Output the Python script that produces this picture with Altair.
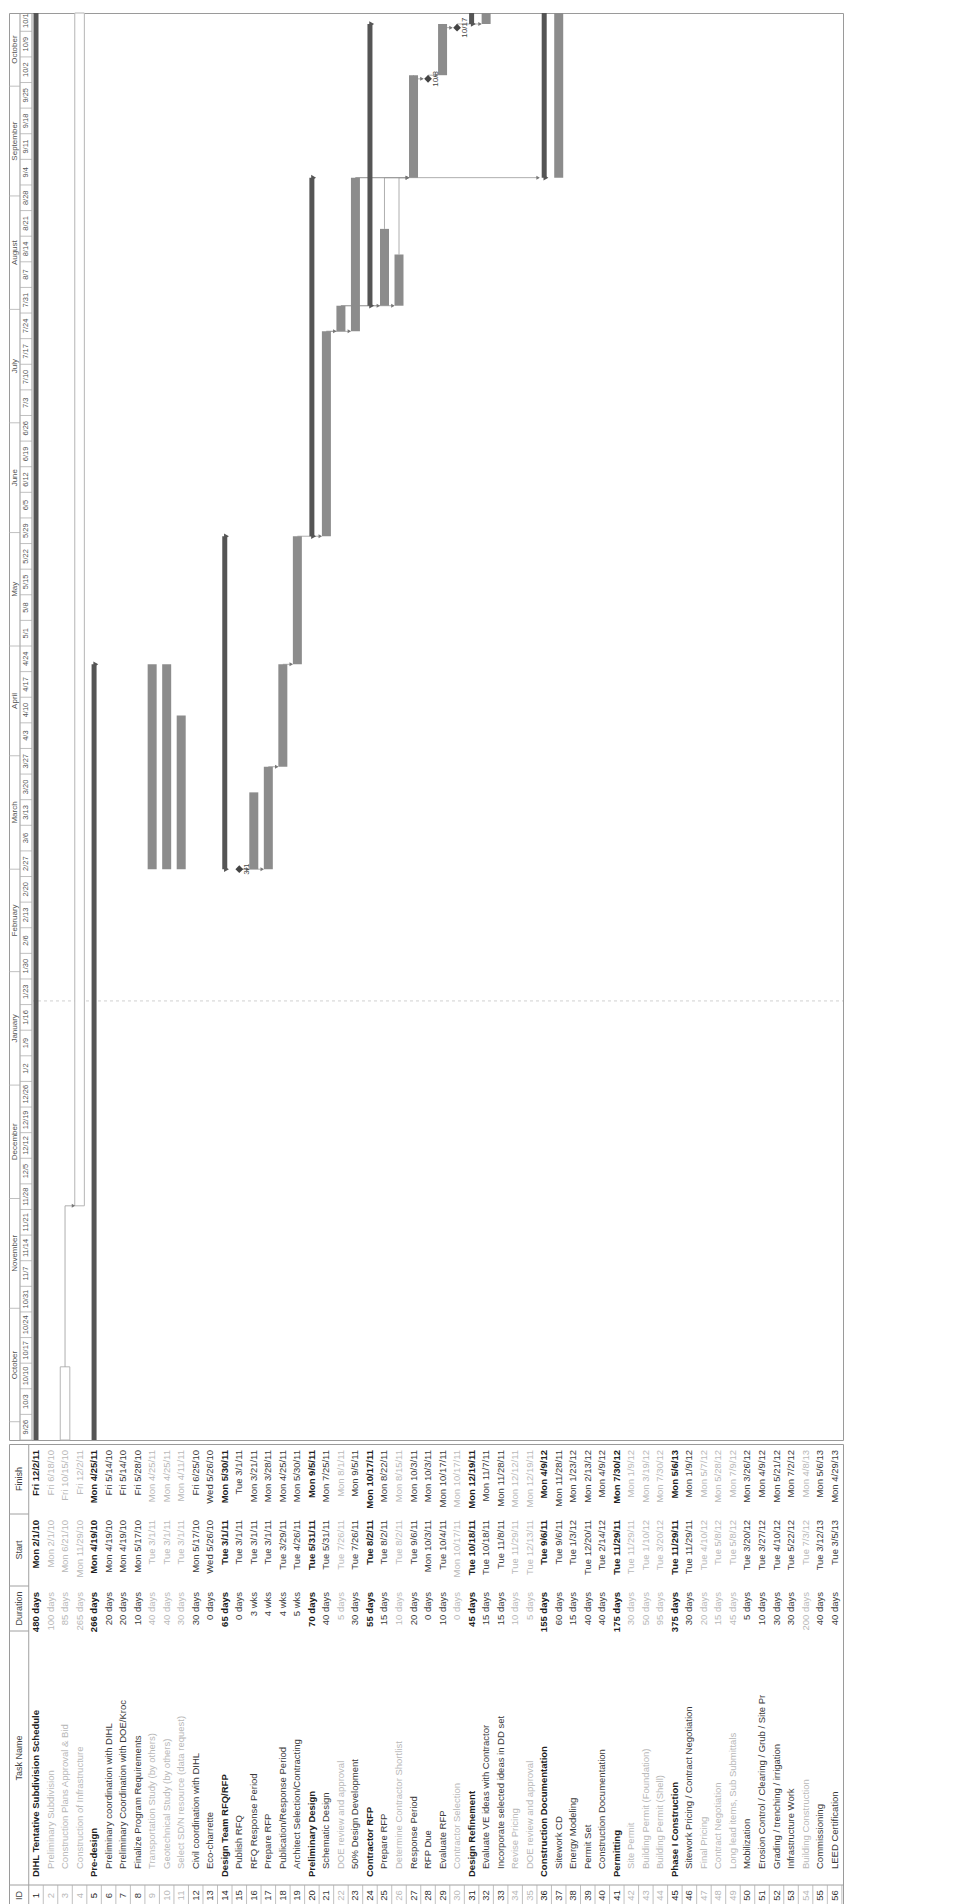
import altair as alt
import pandas as pd
from datetime import date, datetime, timedelta, timezone

# ---------------- data ----------------
IDS = list(range(1, 57))
NAMES = [
    "DIHL Tentative Subdivision Schedule", "Preliminary Subdivision",
    "Construction Plans Approval & Bid", "Construction of Infrastructure",
    "Pre-design", "Preliminary coordination with DIHL",
    "Preliminary Coordination with DOE/Kroc", "Finalize Program Requirements",
    "Transportation Study (by others)", "Geotechnical Study (by others)",
    "Select SD/N resource (data request)", "Civil coordination with DIHL",
    "Eco-charrette", "Design Team RFQ/RFP", "Publish RFQ", "RFQ Response Period",
    "Prepare RFP", "Publication/Response Period", "Architect Selection/Contracting",
    "Preliminary Design", "Schematic Design", "DOE review and approval",
    "50% Design Development", "Contractor RFP", "Prepare RFP",
    "Determine Contractor Shortlist", "Response Period", "RFP Due", "Evaluate RFP",
    "Contractor Selection", "Design Refinement", "Evaluate VE ideas with Contractor",
    "Incorporate selected ideas in DD set", "Revise Pricing", "DOE review and approval",
    "Construction Documentation", "Sitework CD", "Energy Modeling", "Permit Set",
    "Construction Documentation", "Permitting", "Site Permit",
    "Building Permit (Foundation)", "Building Permit (Shell)", "Phase I Construction",
    "Sitework Pricing / Contract Negotiation", "Final Pricing", "Contract Negotiation",
    "Long lead items, Sub Submittals", "Mobilization",
    "Erosion Control / Clearing / Grub / Site Pr", "Grading / trenching / irrigation",
    "Infrastructure Work", "Building Construction", "Commissioning", "LEED Certification",
]
DURATIONS = [
    "480 days", "100 days", "85 days", "265 days", "266 days", "20 days", "20 days",
    "10 days", "40 days", "40 days", "30 days", "30 days", "0 days", "65 days",
    "0 days", "3 wks", "4 wks", "4 wks", "5 wks", "70 days", "40 days", "5 days",
    "30 days", "55 days", "15 days", "10 days", "20 days", "0 days", "10 days",
    "0 days", "45 days", "15 days", "15 days", "10 days", "5 days", "155 days",
    "60 days", "15 days", "40 days", "40 days", "175 days", "30 days", "50 days",
    "95 days", "375 days", "30 days", "20 days", "15 days", "45 days", "5 days",
    "10 days", "30 days", "30 days", "200 days", "40 days", "40 days",
]
STARTS = [
    "Mon 2/1/10", "Mon 2/1/10", "Mon 6/21/10", "Mon 11/29/10", "Mon 4/19/10",
    "Mon 4/19/10", "Mon 4/19/10", "Mon 5/17/10", "Tue 3/1/11", "Tue 3/1/11",
    "Tue 3/1/11", "Mon 5/17/10", "Wed 5/26/10", "Tue 3/1/11", "Tue 3/1/11",
    "Tue 3/1/11", "Tue 3/1/11", "Tue 3/29/11", "Tue 4/26/11", "Tue 5/31/11",
    "Tue 5/31/11", "Tue 7/26/11", "Tue 7/26/11", "Tue 8/2/11", "Tue 8/2/11",
    "Tue 8/2/11", "Tue 9/6/11", "Mon 10/3/11", "Tue 10/4/11", "Mon 10/17/11",
    "Tue 10/18/11", "Tue 10/18/11", "Tue 11/8/11", "Tue 11/29/11", "Tue 12/13/11",
    "Tue 9/6/11", "Tue 9/6/11", "Tue 1/3/12", "Tue 12/20/11", "Tue 2/14/12",
    "Tue 11/29/11", "Tue 11/29/11", "Tue 1/10/12", "Tue 3/20/12", "Tue 11/29/11",
    "Tue 11/29/11", "Tue 4/10/12", "Tue 5/8/12", "Tue 5/8/12", "Tue 3/20/12",
    "Tue 3/27/12", "Tue 4/10/12", "Tue 5/22/12", "Tue 7/3/12", "Tue 3/12/13",
    "Tue 3/5/13",
]
FINISHES = [
    "Fri 12/2/11", "Fri 6/18/10", "Fri 10/15/10", "Fri 12/2/11", "Mon 4/25/11",
    "Fri 5/14/10", "Fri 5/14/10", "Fri 5/28/10", "Mon 4/25/11", "Mon 4/25/11",
    "Mon 4/11/11", "Fri 6/25/10", "Wed 5/26/10", "Mon 5/30/11", "Tue 3/1/11",
    "Mon 3/21/11", "Mon 3/28/11", "Mon 4/25/11", "Mon 5/30/11", "Mon 9/5/11",
    "Mon 7/25/11", "Mon 8/1/11", "Mon 9/5/11", "Mon 10/17/11", "Mon 8/22/11",
    "Mon 8/15/11", "Mon 10/3/11", "Mon 10/3/11", "Mon 10/17/11", "Mon 10/17/11",
    "Mon 12/19/11", "Mon 11/7/11", "Mon 11/28/11", "Mon 12/12/11", "Mon 12/19/11",
    "Mon 4/9/12", "Mon 11/28/11", "Mon 1/23/12", "Mon 2/13/12", "Mon 4/9/12",
    "Mon 7/30/12", "Mon 1/9/12", "Mon 3/19/12", "Mon 7/30/12", "Mon 5/6/13",
    "Mon 1/9/12", "Mon 5/7/12", "Mon 5/28/12", "Mon 7/9/12", "Mon 3/26/12",
    "Mon 4/9/12", "Mon 5/21/12", "Mon 7/2/12", "Mon 4/8/13", "Mon 5/6/13",
    "Mon 4/29/13",
]
SUMMARY_ROWS = [1, 5, 14, 20, 24, 31, 36, 41, 45]
FADED_ROWS = [2, 3, 4, 9, 10, 11, 22, 26, 30, 34, 35, 42, 43, 44, 47, 48, 49, 54]
OUTLINE_ROWS = [2, 3, 4]
LINKS = [(3, 4), (15, 16), (15, 17), (17, 18), (18, 19), (19, 21), (21, 22), (21, 23),
         (22, 25), (22, 26), (23, 27), (23, 36), (25, 27), (26, 27), (27, 28),
         (28, 29), (29, 30), (30, 32)]
MONTH_LABELS = ["October", "November", "December", "January", "February", "March",
                "April", "May", "June", "July", "August", "September", "October"]
TIMELINE_START = "Sun 9/26/10"
STATUS_DATE = "Mon 1/24/11"
TABLE_COLUMNS = ["Finish", "Start", "Duration", "Task Name", "ID"]

# ---------------- layout ----------------
FONT = "Liberation Sans"
ROW_PX = 14.52
W = 834
GH = 1427
TH = 462
PX_PER_DAY = 3.659
X0 = 1 - 27 / ROW_PX
X1 = X0 + W / ROW_PX
TABLE_EDGES = [0, 70, 142, 187, 441, TH]


def u(px):
    return X0 + px / ROW_PX


def parse(s):
    m, d, y = s.split()[1].split("/")
    return date(2000 + int(y), int(m), int(d))


DAY = 86400000


def ms(d):
    return int(datetime(d.year, d.month, d.day, tzinfo=timezone.utc).timestamp() * 1000)


D0 = parse(TIMELINE_START)
D1 = D0 + timedelta(days=round(GH / PX_PER_DAY))
T0, T1 = ms(D0), ms(D1)

XS = alt.Scale(domain=[X0, X1], nice=False, zero=False)
YS = alt.Scale(type="utc", domain=[T0, T1], clamp=True, nice=False)
TS = alt.Scale(domain=[0, TH], reverse=True, nice=False, zero=False)


def X(f):
    return alt.X(f, type="quantitative", scale=XS, axis=None)


def Y(f):
    return alt.Y(f, type="temporal", scale=YS, axis=None)


def TY(f):
    return alt.Y(f, type="quantitative", scale=TS, axis=None)


# ---------------- task records ----------------
tasks = []
for i, n, du, s, f in zip(IDS, NAMES, DURATIONS, STARTS, FINISHES):
    sd, fd = parse(s), parse(f)
    if du.startswith("0 "):
        kind = "milestone"
    elif i in SUMMARY_ROWS:
        kind = "summary"
    elif i in OUTLINE_ROWS:
        kind = "outline"
    else:
        kind = "task"
    st = ms(sd)
    en = ms(fd) + DAY if kind != "milestone" else ms(sd) + DAY // 2
    tasks.append(dict(row=i, kind=kind, start=st, end=en,
                      label=f"{sd.month}/{sd.day}"))
T = pd.DataFrame(tasks)
vis = T[(T.end > T0) & (T.start < T1)].copy()
vis["xl"] = vis.row - 0.33
vis["xh"] = vis.row + 0.33

bars = vis[vis.kind == "task"]
summ = vis[vis.kind == "summary"]
outl = vis[vis.kind == "outline"]
mile = vis[vis.kind == "milestone"]

caps = []
for _, r in summ.iterrows():
    for t in (r.start, r.end):
        if T0 < t < T1:
            caps.append(dict(x=r.row + 0.12, t=t))
caps = pd.DataFrame(caps)

# links
by_row = T.set_index("row")
hseg, vseg, heads = [], [], []
for p, s in LINKS:
    pe = by_row.loc[p, "end"]
    ss = by_row.loc[s, "start"]
    hseg.append(dict(x=p, x2=s - 0.36, t=ss))
    if pe != ss:
        vseg.append(dict(x=p, t=pe, t2=ss))
    heads.append(dict(x=s - 0.42, t=ss))
hseg, vseg, heads = pd.DataFrame(hseg), pd.DataFrame(vseg), pd.DataFrame(heads)

# timeline header
weeks = []
d = D0
while d < D1:
    weeks.append(dict(t=ms(d), mid=ms(d) + int(3.5 * DAY), label=f"{d.month}/{d.day}"))
    d += timedelta(days=7)
weeks = pd.DataFrame(weeks)

months = []
for k, lab in enumerate(MONTH_LABELS):
    y, m = 2010 + (9 + k) // 12, (9 + k) % 12 + 1
    ny, nm = 2010 + (10 + k) // 12, (10 + k) % 12 + 1
    a, b = ms(date(y, m, 1)), ms(date(ny, nm, 1))
    lo, hi = max(a, T0), min(b, T1)
    months.append(dict(t=a, mid=lo + (hi - lo) / 2, label=lab))
months = pd.DataFrame(months)

MT_X, WK_X, HD_R = u(5.5), u(17), u(23)

# ---------------- Gantt panel ----------------
tier_lines = alt.Chart(pd.DataFrame({"x": [u(11), HD_R]})).mark_rule(
    color="#9a9a9a", strokeWidth=1).encode(x=X("x"))

week_sep = alt.Chart(weeks).transform_calculate(a=str(u(11)), b=str(HD_R)).mark_rule(
    color="#b0b0b0", strokeWidth=0.8).encode(x=X("a"), x2="b:Q", y=Y("t"))
month_sep = alt.Chart(months).transform_calculate(a=str(X0), b=str(u(11))).mark_rule(
    color="#b0b0b0", strokeWidth=0.8).encode(x=X("a"), x2="b:Q", y=Y("t"))

week_txt = alt.Chart(weeks).transform_calculate(x=str(WK_X)).mark_text(
    angle=270, align="center", baseline="middle", font=FONT, fontSize=7.5,
    color="#555555", clip=True).encode(x=X("x"), y=Y("mid"), text="label:N")
month_txt = alt.Chart(months).transform_calculate(x=str(MT_X)).mark_text(
    angle=270, align="center", baseline="middle", font=FONT, fontSize=8,
    color="#555555", clip=True).encode(x=X("x"), y=Y("mid"), text="label:N")

status = alt.Chart(pd.DataFrame({"t": [ms(parse(STATUS_DATE))],
                                 "a": [HD_R], "b": [X1]})).mark_rule(
    color="#d0d0d0", strokeWidth=1, strokeDash=[3, 3]).encode(
    x=X("a"), x2="b:Q", y=Y("t"))

outline_bars = alt.Chart(outl).mark_rect(
    fill="white", stroke="#b5b5b5", strokeWidth=1).encode(
    x=X("xl"), x2="xh:Q", y=Y("start"), y2="end:T")

link_h = alt.Chart(hseg).mark_rule(color="#9a9a9a", strokeWidth=0.8).encode(
    x=X("x"), x2="x2:Q", y=Y("t"))
link_v = alt.Chart(vseg).mark_rule(color="#9a9a9a", strokeWidth=0.8).encode(
    x=X("x"), y=Y("t"), y2="t2:T")
link_head = alt.Chart(heads).mark_point(
    shape="triangle-right", filled=True, size=16, color="#777777", opacity=1).encode(
    x=X("x"), y=Y("t"))

task_bars = alt.Chart(bars).mark_rule(
    color="#8c8c8c", strokeWidth=9, strokeCap="butt").encode(
    x=X("row"), y=Y("start"), y2="end:T")
summary_bars = alt.Chart(summ).mark_rule(
    color="#555555", strokeWidth=5, strokeCap="butt").encode(
    x=X("row"), y=Y("start"), y2="end:T")
summary_caps = alt.Chart(caps).mark_point(
    shape="triangle-right", filled=True, size=32, color="#555555", opacity=1).encode(
    x=X("x"), y=Y("t"))

mile_pts = alt.Chart(mile).mark_point(
    shape="diamond", filled=True, size=60, color="#444444", opacity=1).encode(
    x=X("row"), y=Y("start"))
mile_txt = alt.Chart(mile).mark_text(
    angle=270, align="center", baseline="middle", dy=8, font=FONT, fontSize=8,
    color="#444444").encode(x=X("row"), y=Y("start"), text="label:N")

gantt = alt.layer(
    tier_lines, week_sep, month_sep, week_txt, month_txt, status, outline_bars,
    link_h, link_v, link_head, task_bars, summary_bars, summary_caps,
    mile_pts, mile_txt,
).properties(width=W, height=GH)

# ---------------- table panel ----------------
txt = []
for i, n, du, s, f in zip(IDS, NAMES, DURATIONS, STARTS, FINISHES):
    bold = i in SUMMARY_ROWS
    col = "#b8b8b8" if i in FADED_ROWS else ("#1e1e1e" if bold else "#3a3a3a")
    txt += [
        dict(row=i, text=f, ty=6, al="right", bold=bold, col=col),
        dict(row=i, text=s, ty=TABLE_EDGES[1] + 6, al="right", bold=bold, col=col),
        dict(row=i, text=du, ty=TABLE_EDGES[2] + 6, al="right", bold=bold, col=col),
        dict(row=i, text=n, ty=TABLE_EDGES[4] - (8 if bold else 16), al="left",
             bold=bold, col=col),
        dict(row=i, text=str(i), ty=(TABLE_EDGES[4] + TABLE_EDGES[5]) / 2,
             al="center", bold=False, col=col),
    ]
TX = pd.DataFrame(txt)


def text_layer(al, bold):
    dfp = TX[(TX.al == al) & (TX.bold == bold)]
    return alt.Chart(dfp).mark_text(
        angle=270, align=al, baseline="middle", font=FONT, fontSize=9.5,
        fontWeight="bold" if bold else "normal").encode(
        x=X("row"), y=TY("ty"), text="text:N", color=alt.Color("col:N", scale=None))


HDR_X = (X0 + 0.5) / 2
hdr = pd.DataFrame({
    "label": TABLE_COLUMNS,
    "ty": [(TABLE_EDGES[k] + TABLE_EDGES[k + 1]) / 2 for k in range(5)],
    "x": [HDR_X] * 5,
})
hdr_txt = alt.Chart(hdr).mark_text(
    angle=270, align="center", baseline="middle", font=FONT, fontSize=9,
    color="#444444").encode(x=X("x"), y=TY("ty"), text="label:N")

hdr_sep = alt.Chart(pd.DataFrame({"ty": TABLE_EDGES[1:5], "a": [X0] * 4,
                                  "b": [0.5] * 4})).mark_rule(
    color="#a0a0a0", strokeWidth=1).encode(x=X("a"), x2="b:Q", y=TY("ty"))
id_line = alt.Chart(pd.DataFrame({"ty": [TABLE_EDGES[4]], "a": [0.5], "b": [X1]})).mark_rule(
    color="#a0a0a0", strokeWidth=1).encode(x=X("a"), x2="b:Q", y=TY("ty"))
hdr_line = alt.Chart(pd.DataFrame({"x": [0.5]})).mark_rule(
    color="#a0a0a0", strokeWidth=1).encode(x=X("x"))
id_cells = alt.Chart(pd.DataFrame({"x": [i + 0.5 for i in IDS],
                                   "a": [TABLE_EDGES[4]] * len(IDS),
                                   "b": [TABLE_EDGES[5]] * len(IDS)})).mark_rule(
    color="#b0b0b0", strokeWidth=0.8).encode(x=X("x"), y=TY("a"), y2="b:Q")

table = alt.layer(
    hdr_sep, id_line, hdr_line, id_cells, hdr_txt,
    text_layer("right", False), text_layer("right", True),
    text_layer("left", False), text_layer("left", True),
    text_layer("center", False),
).properties(width=W, height=TH)

chart = alt.vconcat(gantt, table, spacing=0).resolve_scale(
    x="independent", y="independent", color="independent"
).properties(padding=0, background="white").configure_view(
    stroke="#9a9a9a", strokeWidth=1)

chart.save("out.html", embed_options={"renderer": "svg", "actions": False})
